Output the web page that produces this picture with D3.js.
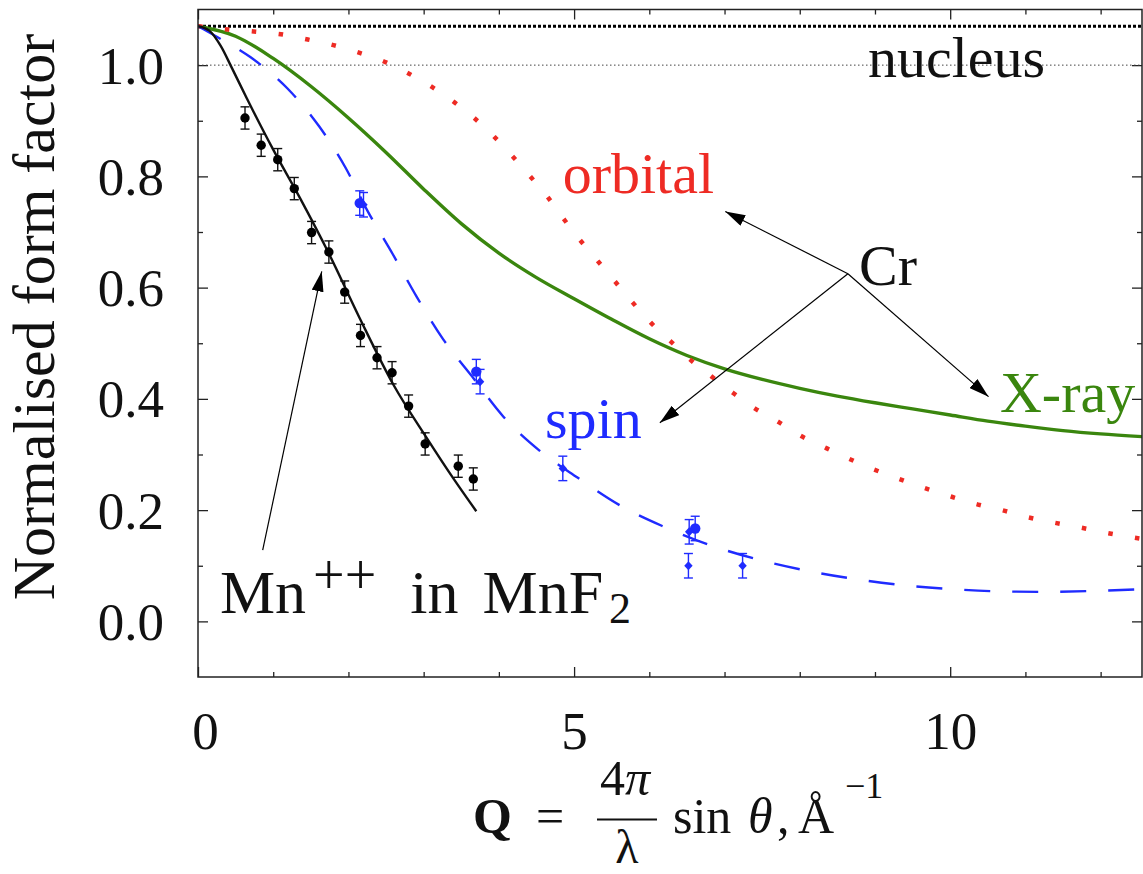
<!DOCTYPE html>
<html>
<head>
<meta charset="utf-8">
<script src="https://cdn.jsdelivr.net/npm/d3@7"></script>
<style>
body{margin:0;background:#fff;}
svg text{font-family:"Liberation Serif","DejaVu Serif",serif;fill:#111;}
</style>
</head>
<body>
<script>

// --- values ---
var xTicks=[0,5,10];
var xMinorTicks=[1,2,3,4,6,7,8,9,11,12];
var yTicks=[0,0.2,0.4,0.6,0.8,1.0];
var yMinorTicks=[0.1,0.3,0.5,0.7,0.9];

var nucleusLevel=1.0;		//thin dotted line
var topLevel=1.07;			//thick dotted line where every curve starts

// Mn++ in MnF2, measured points (Q, f)
var mnPoints=[[0.625,0.905],[0.84,0.856],[1.06,0.830],[1.28,0.778],[1.51,0.699],[1.74,0.664],[1.95,0.592],
	[2.16,0.514],[2.38,0.474],[2.58,0.447],[2.80,0.387],[3.02,0.319],[3.46,0.279],[3.66,0.256]];
var mnErr=0.02;
// Mn++ curve
var mnCurve=[[0,1.07],[0.15,1.062],[0.3,1.035],[0.45,0.995],[0.65,0.94],[1.0,0.848],[1.36,0.76],[1.73,0.664],
	[2.15,0.545],[2.6,0.425],[3.04,0.33],[3.39,0.258],[3.7,0.198]];

// Cr X-ray form factor
var xrayCurve=[[0,1.07],[0.5,1.052],[1.0,1.012],[1.5,0.962],[2.0,0.905],[2.5,0.843],[3.0,0.777],[3.5,0.715],
	[4.0,0.662],[4.5,0.618],[5.0,0.580],[5.5,0.543],[6.0,0.508],[6.5,0.478],[7.0,0.454],[7.5,0.435],
	[8.0,0.419],[8.5,0.405],[9.0,0.393],[9.5,0.382],[10.0,0.371],[10.5,0.360],[11.0,0.351],[11.5,0.343],
	[12.0,0.337],[12.56,0.332]];

// Cr orbital form factor
var orbitalCurve=[[0,1.07],[0.40,1.064],[0.78,1.060],[1.13,1.055],[1.46,1.046],[1.80,1.036],[2.15,1.022],[2.50,1.005],
	[2.80,0.985],[3.12,0.960],[3.41,0.933],[3.68,0.904],[3.94,0.871],[4.19,0.835],[4.43,0.798],[4.66,0.761],
	[4.87,0.722],[5.07,0.687],[5.32,0.647],[5.55,0.610],[5.78,0.573],[6.02,0.537],[6.28,0.504],[6.54,0.471],
	[6.83,0.440],[7.11,0.411],[7.39,0.384],[7.70,0.360],[7.98,0.336],[8.36,0.311],[8.66,0.292],[8.97,0.274],
	[9.30,0.257],[9.65,0.240],[10.02,0.224],[10.37,0.210],[10.69,0.200],[11.01,0.188],[11.36,0.178],
	[11.72,0.169],[12.08,0.159],[12.56,0.148]];

// Cr spin form factor
var spinCurve=[[0,1.07],[0.25,1.051],[0.70,1.014],[1.19,0.958],[1.61,0.890],[1.96,0.816],[2.25,0.739],[2.59,0.660],
	[2.91,0.583],[3.26,0.507],[3.64,0.441],[4.06,0.368],[4.54,0.307],[5.05,0.258],[5.63,0.207],[6.18,0.171],
	[6.81,0.137],[7.45,0.111],[8.10,0.091],[8.69,0.077],[9.38,0.065],[10.02,0.058],[10.63,0.054],[11.29,0.053],
	[11.97,0.055],[12.56,0.058]];
var spinCircles=[[2.15,0.752],[3.70,0.449],[6.61,0.167]];
var spinDiamonds=[[2.20,0.749],[3.75,0.431],[4.85,0.275],[6.53,0.161],[6.52,0.100],[7.24,0.100]];
var spinErr=0.022;

// annotations
var labelText=["nucleus","orbital","Cr","spin","X-ray"];
var labelPos=[[8.907,0.978],[4.848,0.770],[8.788,0.605],[4.613,0.329],[10.662,0.377]];
var mnLabelPos=[0.292,0.015];
var arrowLines=[[[0.86,0.128],[1.645,0.629]],[[8.64,0.625],[7.01,0.737]],[[8.64,0.625],[6.14,0.357]],[[8.64,0.625],[10.51,0.404]]];

var cBlack="#111", cRed="#ee2b24", cBlue="#1f2bff", cGreen="#3a860e";
var labelColor={"nucleus":cBlack,"orbital":cRed,"Cr":cBlack,"spin":cBlue,"X-ray":cGreen};

// --- layout ---
var W=1143, H=874;
var margin={top:9.5,right:1,bottom:197,left:198};
var width=W-margin.left-margin.right,
	height=H-margin.top-margin.bottom;

var x=d3.scaleLinear().domain([0,12.55]).range([0,width]);
var y=d3.scaleLinear().domain([-0.1,1.1]).range([height,0]);

var svg=d3.select("body").append("svg")
	.attr("width",W)
	.attr("height",H)
	.attr("font-family","Liberation Serif");

var defs=svg.append("defs");
defs.append("clipPath").attr("id","plotclip")
	.append("rect").attr("width",width).attr("height",height);
defs.append("marker")
	.attr("id","head")
	.attr("markerUnits","userSpaceOnUse")
	.attr("viewBox","0 0 20 12")
	.attr("refX",20).attr("refY",6)
	.attr("markerWidth",20).attr("markerHeight",12)
	.attr("orient","auto")
	.append("path").attr("d","M0,0L20,6L0,12Z").attr("fill","#000");

var g=svg.append("g")
	.attr("transform","translate("+margin.left+","+margin.top+")");

// ticks, all pointing inward
function styleAxis(sel)
{
	sel.attr("font-family",null);
	sel.select(".domain").remove();
	sel.selectAll(".tick line").attr("stroke","#222").attr("stroke-width",1.3);
}

g.append("g").attr("transform","translate(0,"+height+")")
	.call(d3.axisBottom(x).tickValues(xMinorTicks).tickSize(-5).tickFormat(""))
	.call(styleAxis);
var xAx=g.append("g").attr("transform","translate(0,"+height+")")
	.call(d3.axisBottom(x).tickValues(xTicks).tickSize(-10).tickFormat(d3.format("d")))
	.call(styleAxis);
xAx.selectAll("text").attr("y",72).attr("dy",null)
	.attr("dx",function(d){return d===0?7:0;})
	.style("font-size","53px").style("fill","#111");

g.append("g").call(d3.axisTop(x).tickValues(xMinorTicks).tickSize(-5).tickFormat("")).call(styleAxis);
g.append("g").call(d3.axisTop(x).tickValues(xTicks).tickSize(-10).tickFormat("")).call(styleAxis);

g.append("g").call(d3.axisLeft(y).tickValues(yMinorTicks).tickSize(-5).tickFormat("")).call(styleAxis);
var yAx=g.append("g")
	.call(d3.axisLeft(y).tickValues(yTicks).tickSize(-10).tickFormat(d3.format(".1f")))
	.call(styleAxis);
yAx.selectAll("text").attr("x",-34).attr("dy","0.34em")
	.style("font-size","53px").style("fill","#111");

g.append("g").attr("transform","translate("+width+",0)")
	.call(d3.axisRight(y).tickValues(yMinorTicks).tickSize(-5).tickFormat("")).call(styleAxis);
g.append("g").attr("transform","translate("+width+",0)")
	.call(d3.axisRight(y).tickValues(yTicks).tickSize(-10).tickFormat("")).call(styleAxis);

// reference lines
g.append("line")
	.attr("x1",0).attr("x2",width)
	.attr("y1",y(nucleusLevel)).attr("y2",y(nucleusLevel))
	.attr("stroke","#444").attr("stroke-width",1)
	.attr("stroke-dasharray","1.5,2.5");
g.append("line")
	.attr("x1",0).attr("x2",width)
	.attr("y1",y(topLevel)).attr("y2",y(topLevel))
	.attr("stroke","#000").attr("stroke-width",3)
	.attr("stroke-dasharray","3,2");

// curves
var line=d3.line()
	.x(function(d){return x(d[0]);})
	.y(function(d){return y(d[1]);})
	.curve(d3.curveMonotoneX);

var curves=g.append("g").attr("clip-path","url(#plotclip)");

curves.append("path").datum(xrayCurve)
	.attr("d",line).attr("fill","none")
	.attr("stroke",cGreen).attr("stroke-width",3.4);

curves.append("path").datum(orbitalCurve)
	.attr("d",line).attr("fill","none")
	.attr("stroke",cRed).attr("stroke-width",4.5)
	.attr("stroke-dasharray","4.5,22.5");

curves.append("path").datum(spinCurve)
	.attr("d",line).attr("fill","none")
	.attr("stroke",cBlue).attr("stroke-width",2.4)
	.attr("stroke-dasharray","26,22");

curves.append("path").datum(mnCurve)
	.attr("d",line).attr("fill","none")
	.attr("stroke",cBlack).attr("stroke-width",2.4);

// error bars
function errorBars(data,err,color,cap)
{
	var eb=g.append("g").attr("stroke",color).attr("stroke-width",1.4);
	eb.selectAll(".v").data(data).enter().append("line")
		.attr("x1",function(d){return x(d[0]);}).attr("x2",function(d){return x(d[0]);})
		.attr("y1",function(d){return y(d[1]-err);}).attr("y2",function(d){return y(d[1]+err);});
	[-err,err].forEach(function(e){
		eb.selectAll(".c").data(data).enter().append("line")
			.attr("x1",function(d){return x(d[0])-cap;}).attr("x2",function(d){return x(d[0])+cap;})
			.attr("y1",function(d){return y(d[1]+e);}).attr("y2",function(d){return y(d[1]+e);});
	});
}

errorBars(mnPoints,mnErr,cBlack,4.5);
errorBars(spinCircles,spinErr,cBlue,4.5);
errorBars(spinDiamonds,spinErr,cBlue,4.5);

g.selectAll(".mn").data(mnPoints).enter().append("circle")
	.attr("cx",function(d){return x(d[0]);})
	.attr("cy",function(d){return y(d[1]);})
	.attr("r",4.7).attr("fill","#000");

g.selectAll(".sc").data(spinCircles).enter().append("circle")
	.attr("cx",function(d){return x(d[0]);})
	.attr("cy",function(d){return y(d[1]);})
	.attr("r",5.2).attr("fill",cBlue);

g.selectAll(".sd").data(spinDiamonds).enter().append("path")
	.attr("transform",function(d){return "translate("+x(d[0])+","+y(d[1])+")";})
	.attr("d","M0,-4.6L4.2,0L0,4.6L-4.2,0Z")
	.attr("fill",cBlue);

// frame
g.append("rect")
	.attr("width",width).attr("height",height)
	.attr("fill","none").attr("stroke","#222").attr("stroke-width",1.5);

// arrows
g.selectAll(".arrow").data(arrowLines).enter().append("line")
	.attr("x1",function(d){return x(d[0][0]);}).attr("y1",function(d){return y(d[0][1]);})
	.attr("x2",function(d){return x(d[1][0]);}).attr("y2",function(d){return y(d[1][1]);})
	.attr("stroke","#000").attr("stroke-width",1.2)
	.attr("marker-end","url(#head)");

// labels
g.selectAll(".lab").data(labelText).enter().append("text")
	.attr("x",function(d,i){return x(labelPos[i][0]);})
	.attr("y",function(d,i){return y(labelPos[i][1]);})
	.style("font-size","58px")
	.style("fill",function(d){return labelColor[d];})
	.text(function(d){return d;});

var mn=g.append("text")
	.attr("x",x(mnLabelPos[0])).attr("y",y(mnLabelPos[1]))
	.style("font-size","62px");
mn.append("tspan").text("Mn");
mn.append("tspan").attr("dx",7).attr("dy",-19).style("font-size","56px").text("++");
mn.append("tspan").attr("dx",34).attr("dy",19).style("font-size","62px").text("in");
mn.append("tspan").attr("dx",24).text("MnF");
mn.append("tspan").attr("dx",6).attr("dy",10).style("font-size","44px").text("2");

// y axis title
svg.append("text")
	.attr("transform","translate(54,317) rotate(-90)")
	.attr("text-anchor","middle")
	.style("font-size","60px")
	.text("Normalised form factor");

// x axis title  Q = 4pi/lambda sin theta, A^-1
var t=svg.append("g")
	.attr("transform","translate("+(margin.left+width/2-197)+",0)")
	.style("font-size","50px");
t.append("text").attr("x",0).attr("y",833).style("font-weight","bold").text("Q");
t.append("text").attr("x",63).attr("y",833).text("=");
var num=t.append("text").attr("x",152).attr("y",795).attr("text-anchor","middle");
num.append("tspan").text("4");
num.append("tspan").style("font-style","italic").text("π");
t.append("line").attr("x1",124).attr("x2",184).attr("y1",819.5).attr("y2",819.5)
	.attr("stroke","#111").attr("stroke-width",2);
t.append("text").attr("x",154).attr("y",863).attr("text-anchor","middle").style("font-size","48px").text("λ");
t.append("text").attr("x",200).attr("y",833).text("sin");
t.append("text").attr("x",275).attr("y",833).style("font-style","italic").text("θ");
t.append("text").attr("x",304).attr("y",833).text(",");
t.append("text").attr("x",325).attr("y",833).text("Å");
t.append("text").attr("x",372).attr("y",798).style("font-size","36px").text("−1");

</script>
</body>
</html>
